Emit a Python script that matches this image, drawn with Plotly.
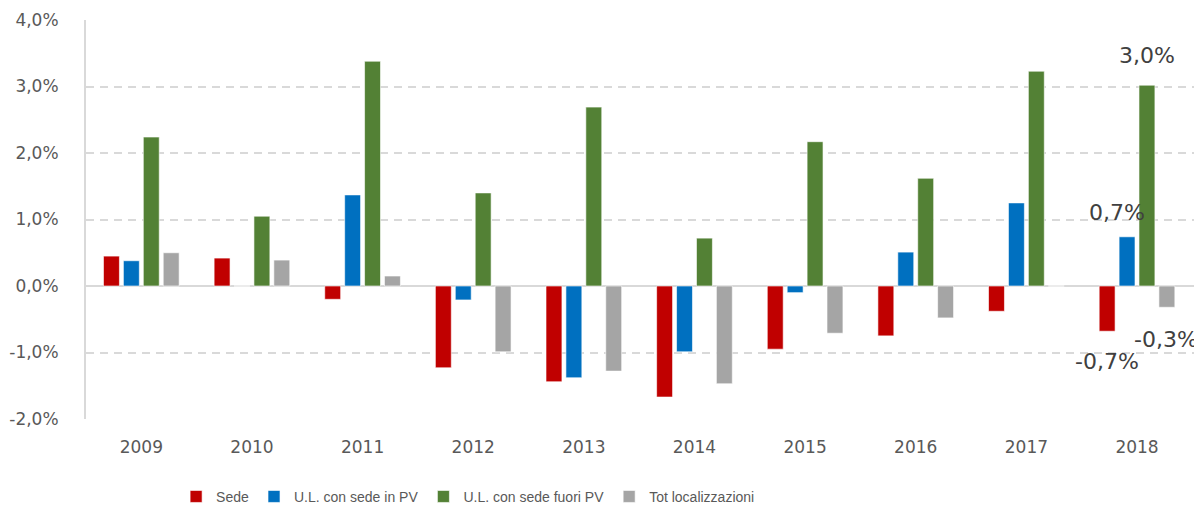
import plotly.graph_objects as go

years = ["2009", "2010", "2011", "2012", "2013", "2014", "2015", "2016", "2017", "2018"]
sede = [0.45, 0.42, -0.20, -1.23, -1.44, -1.67, -0.95, -0.75, -0.38, -0.68]
ul_in_pv = [0.38, 0.0, 1.37, -0.21, -1.38, -0.99, -0.10, 0.51, 1.25, 0.74]
ul_fuori_pv = [2.24, 1.05, 3.38, 1.40, 2.69, 0.72, 2.17, 1.62, 3.23, 3.02]
tot_loc = [0.50, 0.39, 0.15, -0.99, -1.28, -1.47, -0.71, -0.48, 0.0, -0.32]
y_ticks = [-2, -1, 0, 1, 2, 3, 4]
y_tick_labels = ["-2,0%", "-1,0%", "0,0%", "1,0%", "2,0%", "3,0%", "4,0%"]

series = [
    ("Sede", sede, "#C00000"),
    ("U.L. con sede in PV", ul_in_pv, "#0070C0"),
    ("U.L. con sede fuori PV", ul_fuori_pv, "#538135"),
    ("Tot localizzazioni", tot_loc, "#A5A5A5"),
]

fig = go.Figure()
for name, vals, col in series:
    fig.add_trace(go.Bar(
        x=years, y=vals, name=name,
        marker=dict(color=col, line=dict(color="rgba(255,255,255,0.6)", width=1)),
    ))

def fmt(v):
    return f"{v:.1f}%".replace(".", ",")

font_lbl = dict(family="DejaVu Sans, sans-serif", size=22, color="#404040")
last = len(years) - 1  # category index of the last year
fig.add_annotation(x=last, y=ul_fuori_pv[-1], text=fmt(ul_fuori_pv[-1]), xshift=10, yshift=15,
                   showarrow=False, yanchor="bottom", font=font_lbl)
fig.add_annotation(x=last, y=ul_in_pv[-1], text=fmt(ul_in_pv[-1]), xshift=-20, yshift=10,
                   showarrow=False, yanchor="bottom", font=font_lbl)
fig.add_annotation(x=last, y=sede[-1], text=fmt(sede[-1]), xshift=-30, yshift=-16,
                   showarrow=False, yanchor="top", font=font_lbl)
fig.add_annotation(x=last, y=tot_loc[-1], text=fmt(tot_loc[-1]), xshift=29, yshift=-18,
                   showarrow=False, yanchor="top", font=font_lbl)

# the page body adds an 8px offset, so the figure is sized to fit the window
fig.update_layout(
    width=1194, height=505,
    margin=dict(l=78, r=2, t=12, b=94),
    paper_bgcolor="white", plot_bgcolor="white",
    barmode="group", bargap=0.28, bargroupgap=0.2,
    font=dict(family="DejaVu Sans, sans-serif", size=17, color="#595959"),
    showlegend=True,
    legend=dict(orientation="h", x=0.343, xanchor="center",
                yref="container", y=0.032, yanchor="middle",
                font=dict(family="Liberation Sans, sans-serif", size=14, color="#595959"),
                itemwidth=30, traceorder="normal"),
    xaxis=dict(type="category", showgrid=False, showline=False, ticks="", automargin=False,
               ticklabelstandoff=16, tickfont=dict(size=17, color="#595959")),
    yaxis=dict(range=[-2, 4], tickvals=y_ticks, ticktext=y_tick_labels, automargin=False,
               showgrid=True, gridcolor="#D9D9D9", griddash="8px,6px", gridwidth=1.5,
               zeroline=True, zerolinecolor="#D9D9D9", zerolinewidth=2,
               showline=True, linecolor="#D9D9D9", linewidth=2,
               ticks="", ticklabelstandoff=22, tickfont=dict(size=17, color="#595959")),
)

fig.write_html("out.html")
